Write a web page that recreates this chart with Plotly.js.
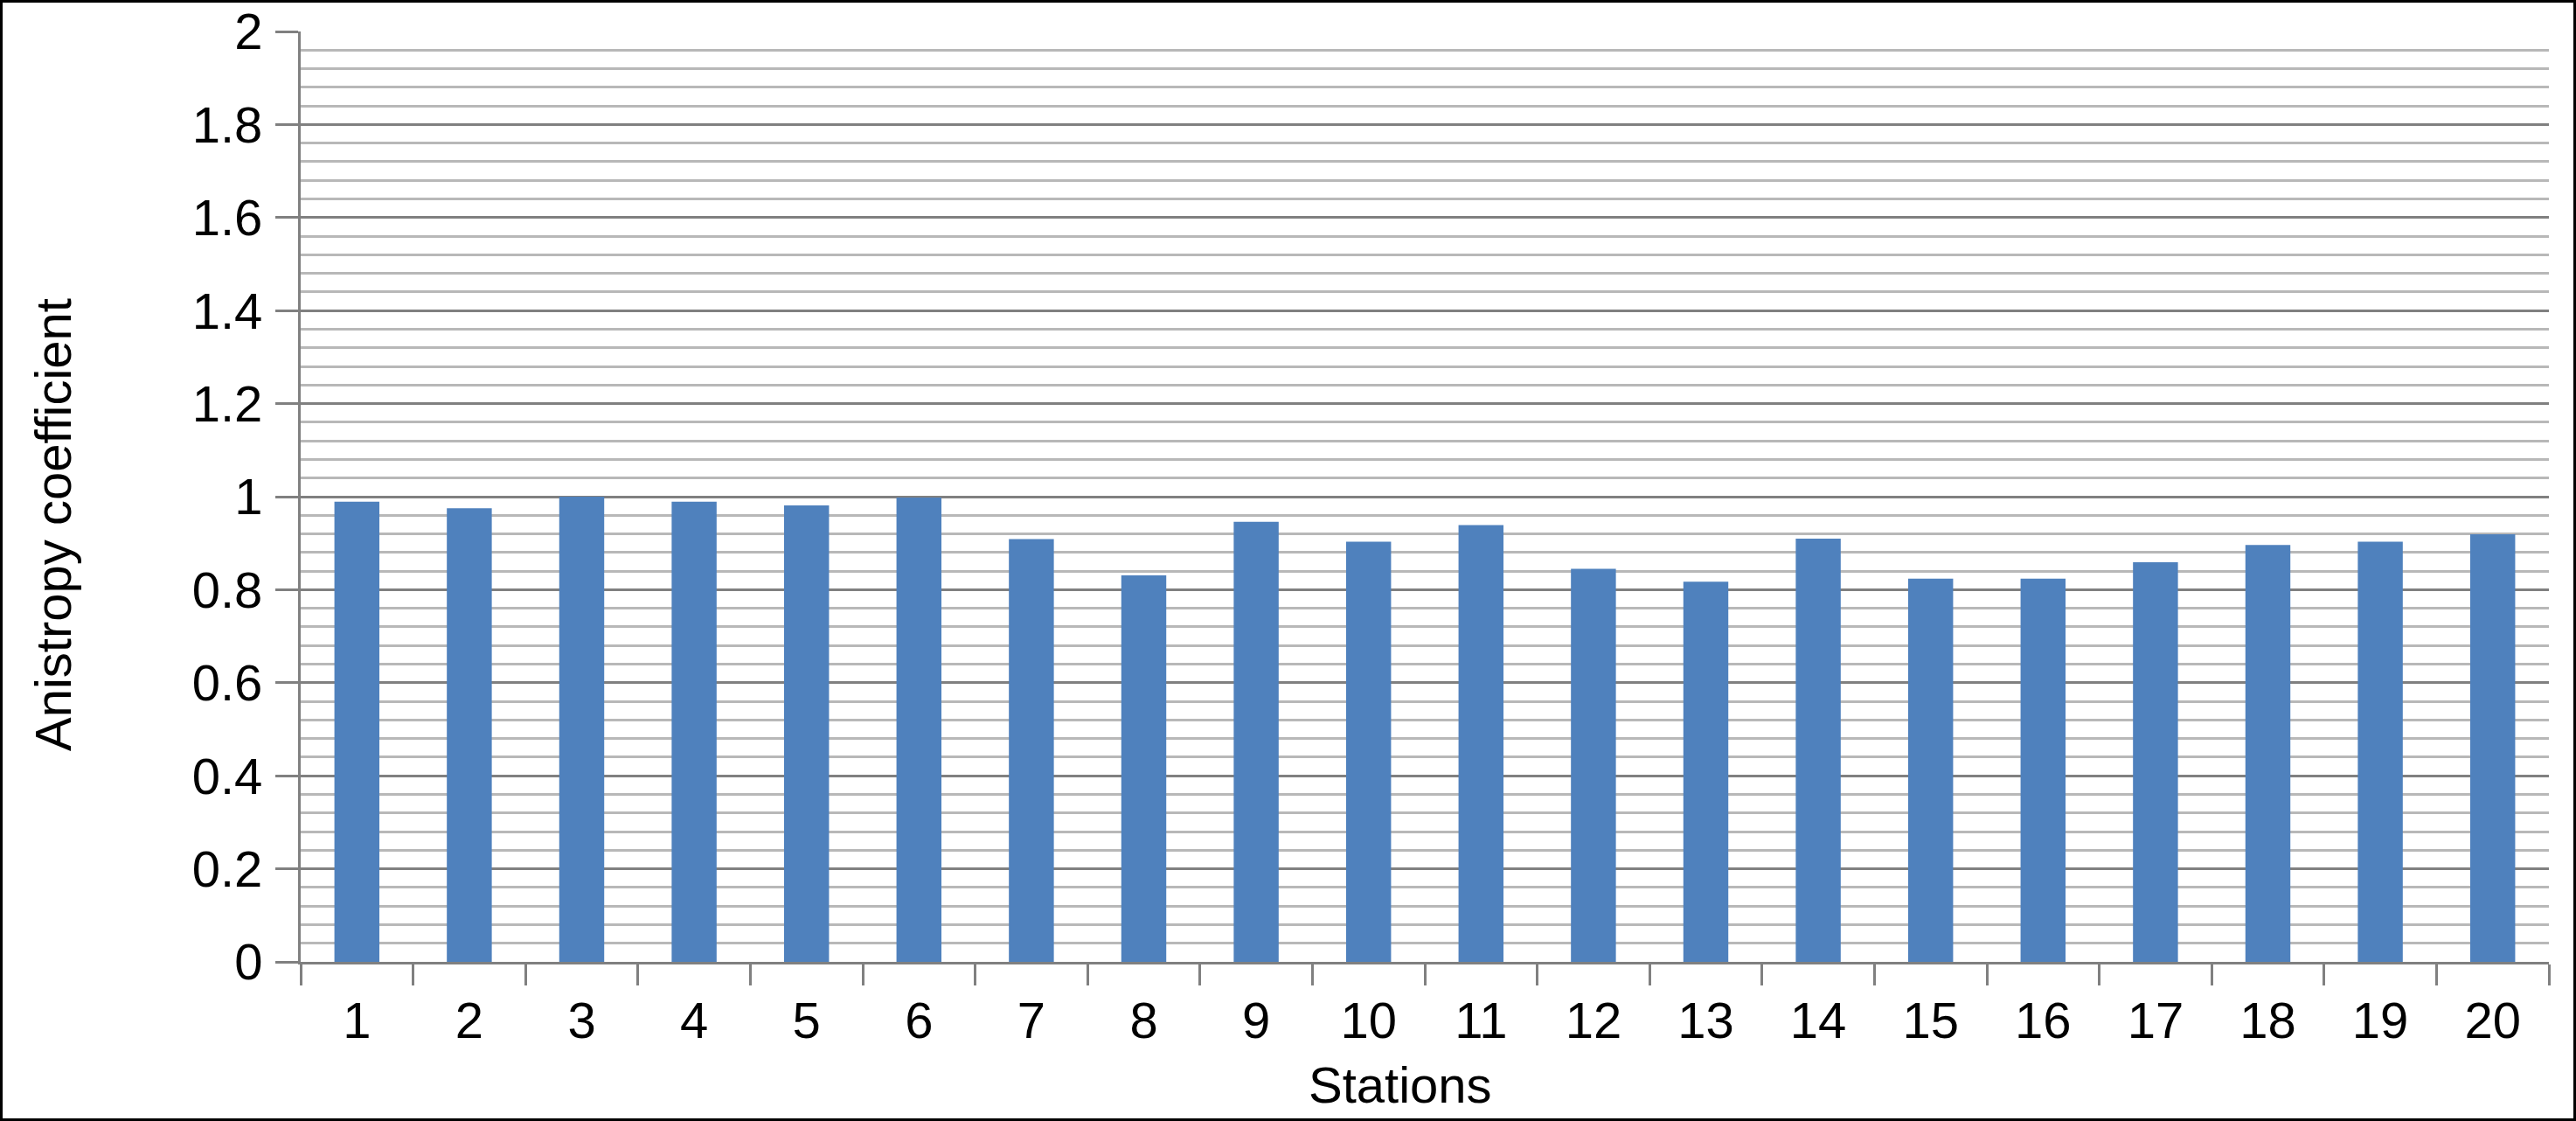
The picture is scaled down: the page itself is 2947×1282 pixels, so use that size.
<!DOCTYPE html>
<html>
<head>
<meta charset="utf-8">
<script src="https://cdn.plot.ly/plotly-3.0.1.min.js"></script>
<style>
  body { margin: 0; background: #fff; }
  #frame { width: 2947px; height: 1282px; box-sizing: border-box; border: 3px solid #000; }
</style>
</head>
<body>
<div id="frame"><div id="chart"></div></div>
<script>
// stations and anisotropy values
const stations = ['1', '2', '3', '4', '5', '6', '7', '8', '9', '10',
  '11', '12', '13', '14', '15', '16', '17', '18', '19', '20'];
const anisotropy = [0.989, 0.975, 1.0, 0.989, 0.981, 0.998, 0.909, 0.831, 0.946, 0.903,
  0.939, 0.845, 0.817, 0.910, 0.824, 0.824, 0.859, 0.896, 0.903, 0.919];

const yTickVals = [0, 0.2, 0.4, 0.6, 0.8, 1, 1.2, 1.4, 1.6, 1.8, 2];
const yTickText = ['0', '0.2', '0.4', '0.6', '0.8', '1', '1.2', '1.4', '1.6', '1.8', '2'];

const axisGray = '#808080';
const font = { family: 'Liberation Sans, Arial, sans-serif', size: 58, color: '#000' };

const data = [
  {
    type: 'bar',
    x: stations,
    y: anisotropy,
    marker: { color: '#4f81bd', line: { width: 0 } },
    hoverinfo: 'skip',
  },
];

const layout = {
  width: 2941,
  height: 1276,
  margin: { l: 341, r: 28, t: 33, b: 179 },
  paper_bgcolor: '#fff',
  plot_bgcolor: '#fff',
  font: font,
  showlegend: false,
  bargap: 0.6,
  xaxis: {
    type: 'category',
    tickson: 'boundaries',
    ticks: 'outside',
    ticklen: 24,
    tickwidth: 3,
    tickcolor: axisGray,
    showline: true,
    linecolor: axisGray,
    linewidth: 3,
    showgrid: false,
    zeroline: false,
    tickfont: font,
    ticklabelstandoff: 14,
  },
  yaxis: {
    range: [0, 2],
    tickmode: 'array',
    tickvals: yTickVals,
    ticktext: yTickText,
    ticks: 'outside',
    ticklen: 26,
    tickwidth: 3,
    tickcolor: axisGray,
    showline: true,
    linecolor: axisGray,
    linewidth: 3,
    showgrid: true,
    gridcolor: axisGray,
    gridwidth: 3,
    zeroline: false,
    tickfont: font,
    ticklabelstandoff: 3,
    minor: {
      dtick: 0.04,
      showgrid: true,
      gridcolor: '#b8b8b8',
      gridwidth: 3,
      ticks: '',
    },
  },
  annotations: [
    {
      text: 'Anistropy coefficient',
      xref: 'paper', yref: 'paper',
      x: -0.11, y: 0.47,
      xanchor: 'center', yanchor: 'middle',
      textangle: -90,
      showarrow: false,
      font: font,
    },
    {
      text: 'Stations',
      xref: 'paper', yref: 'paper',
      x: 0.489, y: -0.132,
      xanchor: 'center', yanchor: 'middle',
      showarrow: false,
      font: font,
    },
  ],
};

Plotly.newPlot('chart', data, layout, { staticPlot: true, displayModeBar: false });
</script>
</body>
</html>
